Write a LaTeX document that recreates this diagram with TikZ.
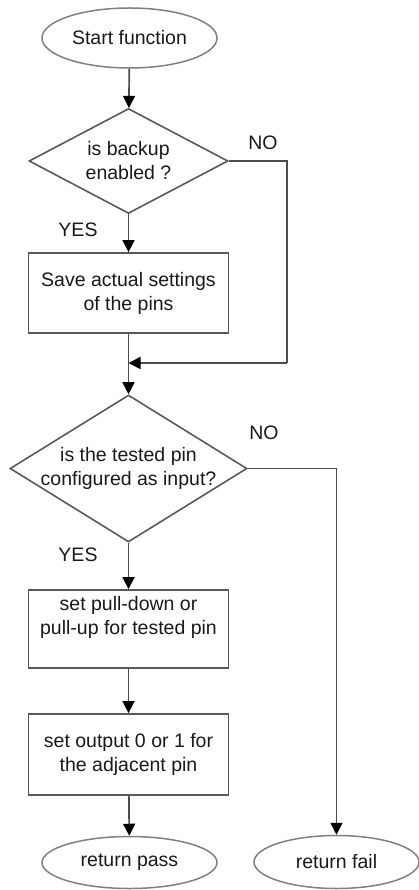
\documentclass[tikz,border=0pt]{standalone}
\usepackage{fontspec}
\setmainfont{Liberation Sans}
\usetikzlibrary{shapes.geometric,arrows.meta}

\begin{document}
\begin{tikzpicture}[x=1pt,y=-1pt,
  every node/.style={font=\fontsize{19.5}{24}\selectfont, align=center, inner sep=0pt, text=black!90},
  terminal/.style={ellipse, draw=black!50, line width=1.5pt},
  decision/.style={diamond, draw=black!65, line width=1.6pt},
  process/.style={rectangle, draw=black!65, line width=1.8pt, minimum width=200pt},
  flow/.style={draw=black!70, line width=1.7pt, -{Triangle[length=12pt,width=12pt,color=black]}},
  plain/.style={draw=black!70, line width=1.7pt}
]
\useasboundingbox (0,0) rectangle (418,890);

% shapes
\node[terminal, minimum width=175pt, minimum height=60pt] (start) at (129.5,38) {Start function};
\node[decision, minimum width=199pt, minimum height=105pt] (d1) at (128.5,161) {};
\node at (d1.center) {is backup\\enabled ?};
\node[process, minimum height=80pt] (b1) at (128.5,293) {Save actual settings\\of the pins};
\coordinate (join) at (128.5,363);
\coordinate (bypass) at (287,363);
\node[decision, minimum width=237pt, minimum height=147pt] (d2) at (128.5,468.5) {};
\node at (d2.center) {is the tested pin\\configured as input?};
\node[process, minimum height=78pt] (b2) at (128.5,629) {};
\node at (128.5,617) {set pull-down or\\pull-up for tested pin};
\node[process, minimum height=81pt] (b3) at (128.5,754.5) {set output 0 or 1 for\\the adjacent pin};
\node[terminal, minimum width=175pt, minimum height=52pt] (pass) at (129.5,862.5) {return pass};
\node[terminal, minimum width=165pt, minimum height=53pt] (fail) at (336.5,862) {return fail};

% branch labels
\node (no1) at (263,143) {NO};
\node (yes1) at (78,230) {YES};
\node (no2) at (264,433) {NO};
\node (yes2) at (78,555) {YES};

% connectors
\draw[flow] (start) -- (d1);
\draw[flow] (d1) -- (b1);
\draw[flow] (b1) -- (d2);
\draw[plain] (d1.east) -| (bypass);
\draw[flow] (bypass) -- (join);
\draw[flow] (d2) -- (b2);
\draw[flow] (d2.east) -| (fail.north);
\draw[flow] (b2) -- (b3);
\draw[flow] (b3) -- (pass);
\end{tikzpicture}
\end{document}
